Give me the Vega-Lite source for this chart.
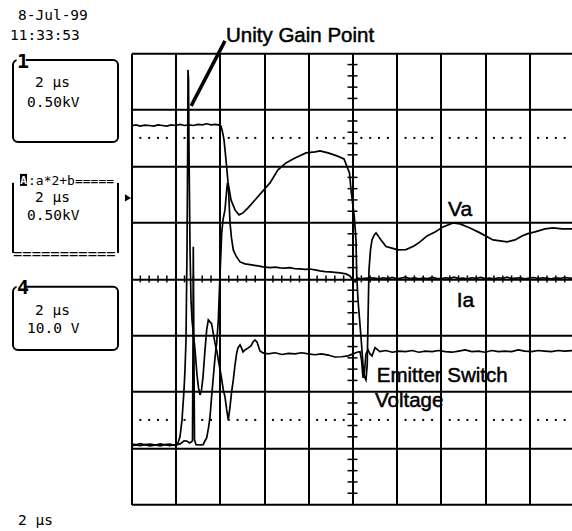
{
"$schema":"https://vega.github.io/schema/vega-lite/v6.json",
"width":440.5,"height":451.2,
"autosize":{"type":"none"},
"padding":{"left":131.5,"top":53.3,"right":0,"bottom":26.5},
"background":"white",
"config":{"view":{"stroke":null},"axis":{"labels":false,"ticks":false,"domain":false,"grid":true,"gridColor":"#000","gridWidth":2,"gridOpacity":1,"title":null}},
"data":{"values":[{}]},
"datasets":{
"xminor":[{"x":0.2},{"x":0.4},{"x":0.6},{"x":0.8},{"x":1.2},{"x":1.4},{"x":1.6},{"x":1.8},{"x":2.2},{"x":2.4},{"x":2.6},{"x":2.8},{"x":3.2},{"x":3.4},{"x":3.6},{"x":3.8},{"x":4.2},{"x":4.4},{"x":4.6},{"x":4.8},{"x":5.2},{"x":5.4},{"x":5.6},{"x":5.8},{"x":6.2},{"x":6.4},{"x":6.6},{"x":6.8},{"x":7.2},{"x":7.4},{"x":7.6},{"x":7.8},{"x":8.2},{"x":8.4},{"x":8.6},{"x":8.8},{"x":9.2},{"x":9.4},{"x":9.6},{"x":9.8}],
"yminor":[{"y":-3.8},{"y":-3.6},{"y":-3.4},{"y":-3.2},{"y":-2.8},{"y":-2.6},{"y":-2.4},{"y":-2.2},{"y":-1.8},{"y":-1.6},{"y":-1.4},{"y":-1.2},{"y":-0.8},{"y":-0.6},{"y":-0.4},{"y":-0.2},{"y":0.2},{"y":0.4},{"y":0.6},{"y":0.8},{"y":1.2},{"y":1.4},{"y":1.6},{"y":1.8},{"y":2.2},{"y":2.4},{"y":2.6},{"y":2.8},{"y":3.2},{"y":3.4},{"y":3.6},{"y":3.8}],
"traces":[
{"t":"Va","x":0.0,"y":2.715},{"t":"Va","x":0.1,"y":2.73},{"t":"Va","x":0.2,"y":2.71},{"t":"Va","x":0.3,"y":2.725},{"t":"Va","x":0.4,"y":2.72},{"t":"Va","x":0.5,"y":2.71},{"t":"Va","x":0.6,"y":2.73},{"t":"Va","x":0.7,"y":2.72},{"t":"Va","x":0.8,"y":2.71},{"t":"Va","x":0.9,"y":2.73},{"t":"Va","x":1.0,"y":2.72},{"t":"Va","x":1.1,"y":2.74},{"t":"Va","x":1.2,"y":2.72},{"t":"Va","x":1.3,"y":2.73},{"t":"Va","x":1.4,"y":2.72},{"t":"Va","x":1.5,"y":2.74},{"t":"Va","x":1.6,"y":2.73},{"t":"Va","x":1.7,"y":2.75},{"t":"Va","x":1.8,"y":2.73},{"t":"Va","x":1.9,"y":2.74},{"t":"Va","x":1.96,"y":2.73},{"t":"Va","x":2.025,"y":2.71},{"t":"Va","x":2.06,"y":2.6},{"t":"Va","x":2.093,"y":2.465},{"t":"Va","x":2.138,"y":2.11},{"t":"Va","x":2.183,"y":1.72},{"t":"Va","x":2.251,"y":1.40},{"t":"Va","x":2.342,"y":1.223},{"t":"Va","x":2.432,"y":1.135},{"t":"Va","x":2.523,"y":1.17},{"t":"Va","x":2.636,"y":1.259},{"t":"Va","x":2.794,"y":1.40},{"t":"Va","x":2.975,"y":1.56},{"t":"Va","x":3.133,"y":1.702},{"t":"Va","x":3.314,"y":1.933},{"t":"Va","x":3.495,"y":2.057},{"t":"Va","x":3.699,"y":2.145},{"t":"Va","x":3.948,"y":2.234},{"t":"Va","x":4.152,"y":2.252},{"t":"Va","x":4.265,"y":2.27},{"t":"Va","x":4.446,"y":2.234},{"t":"Va","x":4.649,"y":2.181},{"t":"Va","x":4.808,"y":2.128},{"t":"Va","x":4.932,"y":1.879},{"t":"Va","x":4.966,"y":1.578},{"t":"Va","x":5.041,"y":1.099},{"t":"Va","x":5.079,"y":0.691},{"t":"Va","x":5.095,"y":0.071},{"t":"Va","x":5.124,"y":-0.372},{"t":"Va","x":5.192,"y":-1.028},{"t":"Va","x":5.238,"y":-1.525},{"t":"Va","x":5.271,"y":-1.738},{"t":"Va","x":5.305,"y":-1.791},{"t":"Va","x":5.333,"y":-1.525},{"t":"Va","x":5.351,"y":-0.727},{"t":"Va","x":5.373,"y":0.16},{"t":"Va","x":5.407,"y":0.514},{"t":"Va","x":5.441,"y":0.691},{"t":"Va","x":5.493,"y":0.78},{"t":"Va","x":5.532,"y":0.816},{"t":"Va","x":5.645,"y":0.691},{"t":"Va","x":5.758,"y":0.573},{"t":"Va","x":5.871,"y":0.55},{"t":"Va","x":6.029,"y":0.514},{"t":"Va","x":6.21,"y":0.52},{"t":"Va","x":6.391,"y":0.585},{"t":"Va","x":6.527,"y":0.656},{"t":"Va","x":6.686,"y":0.762},{"t":"Va","x":6.867,"y":0.833},{"t":"Va","x":7.048,"y":0.922},{"t":"Va","x":7.274,"y":0.993},{"t":"Va","x":7.432,"y":0.975},{"t":"Va","x":7.658,"y":0.904},{"t":"Va","x":7.885,"y":0.816},{"t":"Va","x":8.179,"y":0.691},{"t":"Va","x":8.337,"y":0.674},{"t":"Va","x":8.495,"y":0.656},{"t":"Va","x":8.676,"y":0.691},{"t":"Va","x":8.835,"y":0.762},{"t":"Va","x":8.948,"y":0.798},{"t":"Va","x":9.129,"y":0.833},{"t":"Va","x":9.355,"y":0.887},{"t":"Va","x":9.536,"y":0.904},{"t":"Va","x":9.74,"y":0.887},{"t":"Va","x":9.966,"y":0.887},
{"t":"Ia","x":0.0,"y":-2.93},{"t":"Ia","x":0.1,"y":-2.94},{"t":"Ia","x":0.2,"y":-2.92},{"t":"Ia","x":0.3,"y":-2.94},{"t":"Ia","x":0.42,"y":-2.93},{"t":"Ia","x":0.55,"y":-2.945},{"t":"Ia","x":0.65,"y":-2.925},{"t":"Ia","x":0.75,"y":-2.94},{"t":"Ia","x":0.87,"y":-2.93},{"t":"Ia","x":0.95,"y":-2.945},{"t":"Ia","x":1.03,"y":-2.94},{"t":"Ia","x":1.1,"y":-2.925},{"t":"Ia","x":1.19,"y":-2.87},{"t":"Ia","x":1.25,"y":-2.875},{"t":"Ia","x":1.32,"y":-2.91},{"t":"Ia","x":1.38,"y":-2.87},{"t":"Ia","x":1.391,"y":-1.2},{"t":"Ia","x":1.398,"y":0.57},{"t":"Ia","x":1.41,"y":-1.0},{"t":"Ia","x":1.425,"y":-2.85},{"t":"Ia","x":1.46,"y":-2.94},{"t":"Ia","x":1.55,"y":-2.945},{"t":"Ia","x":1.62,"y":-2.94},{"t":"Ia","x":1.663,"y":-2.87},{"t":"Ia","x":1.701,"y":-2.82},{"t":"Ia","x":1.742,"y":-2.64},{"t":"Ia","x":1.776,"y":-2.45},{"t":"Ia","x":1.81,"y":-2.11},{"t":"Ia","x":1.851,"y":-1.74},{"t":"Ia","x":1.889,"y":-1.40},{"t":"Ia","x":1.928,"y":-1.135},{"t":"Ia","x":1.964,"y":-0.727},{"t":"Ia","x":2.002,"y":0.071},{"t":"Ia","x":2.041,"y":0.816},{"t":"Ia","x":2.07,"y":1.046},{"t":"Ia","x":2.115,"y":1.223},{"t":"Ia","x":2.154,"y":1.578},{"t":"Ia","x":2.172,"y":1.702},{"t":"Ia","x":2.195,"y":1.578},{"t":"Ia","x":2.229,"y":0.993},{"t":"Ia","x":2.262,"y":0.727},{"t":"Ia","x":2.303,"y":0.514},{"t":"Ia","x":2.364,"y":0.408},{"t":"Ia","x":2.455,"y":0.301},{"t":"Ia","x":2.568,"y":0.266},{"t":"Ia","x":2.719,"y":0.248},{"t":"Ia","x":2.862,"y":0.23},{"t":"Ia","x":2.975,"y":0.213},{"t":"Ia","x":3.133,"y":0.2},{"t":"Ia","x":3.25,"y":0.21},{"t":"Ia","x":3.36,"y":0.195},{"t":"Ia","x":3.47,"y":0.19},{"t":"Ia","x":3.586,"y":0.2},{"t":"Ia","x":3.7,"y":0.18},{"t":"Ia","x":3.812,"y":0.177},{"t":"Ia","x":3.92,"y":0.17},{"t":"Ia","x":4.038,"y":0.175},{"t":"Ia","x":4.15,"y":0.16},{"t":"Ia","x":4.265,"y":0.142},{"t":"Ia","x":4.38,"y":0.13},{"t":"Ia","x":4.491,"y":0.124},{"t":"Ia","x":4.6,"y":0.115},{"t":"Ia","x":4.718,"y":0.106},{"t":"Ia","x":4.853,"y":0.089},{"t":"Ia","x":4.943,"y":0.053},{"t":"Ia","x":5.011,"y":-0.018},{"t":"Ia","x":5.057,"y":-0.053},{"t":"Ia","x":5.102,"y":0.018},{"t":"Ia","x":5.17,"y":0.0},{"t":"Ia","x":5.283,"y":0.01},{"t":"Ia","x":5.396,"y":0.02},{"t":"Ia","x":5.5,"y":0.015},{"t":"Ia","x":5.6,"y":0.0},{"t":"Ia","x":5.7,"y":0.02},{"t":"Ia","x":5.8,"y":0.005},{"t":"Ia","x":5.9,"y":0.025},{"t":"Ia","x":6.0,"y":0.0},{"t":"Ia","x":6.1,"y":0.015},{"t":"Ia","x":6.2,"y":0.03},{"t":"Ia","x":6.3,"y":0.005},{"t":"Ia","x":6.4,"y":0.02},{"t":"Ia","x":6.5,"y":0.0},{"t":"Ia","x":6.6,"y":0.015},{"t":"Ia","x":6.7,"y":0.005},{"t":"Ia","x":6.8,"y":0.025},{"t":"Ia","x":6.9,"y":0.01},{"t":"Ia","x":7.0,"y":0.0},{"t":"Ia","x":7.1,"y":0.02},{"t":"Ia","x":7.2,"y":0.01},{"t":"Ia","x":7.3,"y":0.03},{"t":"Ia","x":7.4,"y":0.005},{"t":"Ia","x":7.5,"y":0.015},{"t":"Ia","x":7.6,"y":0.0},{"t":"Ia","x":7.7,"y":0.02},{"t":"Ia","x":7.8,"y":0.01},{"t":"Ia","x":7.9,"y":0.025},{"t":"Ia","x":8.0,"y":0.005},{"t":"Ia","x":8.1,"y":0.015},{"t":"Ia","x":8.2,"y":0.0},{"t":"Ia","x":8.3,"y":0.02},{"t":"Ia","x":8.4,"y":0.01},{"t":"Ia","x":8.5,"y":0.03},{"t":"Ia","x":8.6,"y":0.005},{"t":"Ia","x":8.7,"y":0.015},{"t":"Ia","x":8.8,"y":0.02},{"t":"Ia","x":8.9,"y":0.0},{"t":"Ia","x":9.0,"y":0.015},{"t":"Ia","x":9.1,"y":0.025},{"t":"Ia","x":9.2,"y":0.005},{"t":"Ia","x":9.3,"y":0.02},{"t":"Ia","x":9.4,"y":0.01},{"t":"Ia","x":9.5,"y":0.0},{"t":"Ia","x":9.6,"y":0.02},{"t":"Ia","x":9.7,"y":0.01},{"t":"Ia","x":9.8,"y":0.025},{"t":"Ia","x":9.966,"y":0.01},
{"t":"Es","x":0.0,"y":-2.96},{"t":"Es","x":0.1,"y":-2.945},{"t":"Es","x":0.2,"y":-2.955},{"t":"Es","x":0.3,"y":-2.94},{"t":"Es","x":0.42,"y":-2.96},{"t":"Es","x":0.55,"y":-2.945},{"t":"Es","x":0.65,"y":-2.96},{"t":"Es","x":0.75,"y":-2.94},{"t":"Es","x":0.87,"y":-2.955},{"t":"Es","x":0.95,"y":-2.945},{"t":"Es","x":1.007,"y":-2.95},{"t":"Es","x":1.052,"y":-2.908},{"t":"Es","x":1.097,"y":-2.80},{"t":"Es","x":1.143,"y":-2.5},{"t":"Es","x":1.188,"y":-1.968},{"t":"Es","x":1.21,"y":-1.613},{"t":"Es","x":1.233,"y":-1.082},{"t":"Es","x":1.256,"y":0.514},{"t":"Es","x":1.271,"y":2.287},{"t":"Es","x":1.278,"y":3.706},{"t":"Es","x":1.29,"y":3.528},{"t":"Es","x":1.301,"y":2.287},{"t":"Es","x":1.324,"y":0.514},{"t":"Es","x":1.346,"y":-0.372},{"t":"Es","x":1.369,"y":-0.727},{"t":"Es","x":1.414,"y":-1.082},{"t":"Es","x":1.437,"y":-1.259},{"t":"Es","x":1.482,"y":-1.702},{"t":"Es","x":1.516,"y":-1.933},{"t":"Es","x":1.55,"y":-2.057},{"t":"Es","x":1.584,"y":-1.968},{"t":"Es","x":1.618,"y":-1.738},{"t":"Es","x":1.663,"y":-1.259},{"t":"Es","x":1.701,"y":-0.904},{"t":"Es","x":1.738,"y":-0.727},{"t":"Es","x":1.776,"y":-0.762},{"t":"Es","x":1.814,"y":-0.798},{"t":"Es","x":1.855,"y":-0.993},{"t":"Es","x":1.889,"y":-1.135},{"t":"Es","x":1.934,"y":-1.294},{"t":"Es","x":1.964,"y":-1.436},{"t":"Es","x":2.025,"y":-1.702},{"t":"Es","x":2.077,"y":-1.968},{"t":"Es","x":2.115,"y":-2.092},{"t":"Es","x":2.154,"y":-2.323},{"t":"Es","x":2.19,"y":-2.5},{"t":"Es","x":2.229,"y":-2.27},{"t":"Es","x":2.262,"y":-2.021},{"t":"Es","x":2.303,"y":-1.791},{"t":"Es","x":2.342,"y":-1.525},{"t":"Es","x":2.38,"y":-1.312},{"t":"Es","x":2.409,"y":-1.223},{"t":"Es","x":2.455,"y":-1.17},{"t":"Es","x":2.489,"y":-1.223},{"t":"Es","x":2.523,"y":-1.294},{"t":"Es","x":2.568,"y":-1.259},{"t":"Es","x":2.643,"y":-1.223},{"t":"Es","x":2.704,"y":-1.188},{"t":"Es","x":2.749,"y":-1.117},{"t":"Es","x":2.794,"y":-1.082},{"t":"Es","x":2.839,"y":-1.117},{"t":"Es","x":2.907,"y":-1.277},{"t":"Es","x":2.975,"y":-1.312},{"t":"Es","x":3.088,"y":-1.33},{"t":"Es","x":3.25,"y":-1.31},{"t":"Es","x":3.4,"y":-1.34},{"t":"Es","x":3.55,"y":-1.32},{"t":"Es","x":3.7,"y":-1.33},{"t":"Es","x":3.85,"y":-1.31},{"t":"Es","x":4.0,"y":-1.33},{"t":"Es","x":4.15,"y":-1.345},{"t":"Es","x":4.3,"y":-1.33},{"t":"Es","x":4.45,"y":-1.35},{"t":"Es","x":4.6,"y":-1.385},{"t":"Es","x":4.75,"y":-1.38},{"t":"Es","x":4.9,"y":-1.365},{"t":"Es","x":5.011,"y":-1.33},{"t":"Es","x":5.1,"y":-1.30},{"t":"Es","x":5.17,"y":-1.29},{"t":"Es","x":5.204,"y":-1.436},{"t":"Es","x":5.238,"y":-1.755},{"t":"Es","x":5.271,"y":-1.65},{"t":"Es","x":5.305,"y":-1.33},{"t":"Es","x":5.351,"y":-1.26},{"t":"Es","x":5.396,"y":-1.33},{"t":"Es","x":5.441,"y":-1.365},{"t":"Es","x":5.509,"y":-1.22},{"t":"Es","x":5.62,"y":-1.29},{"t":"Es","x":5.75,"y":-1.27},{"t":"Es","x":5.9,"y":-1.3},{"t":"Es","x":6.05,"y":-1.28},{"t":"Es","x":6.2,"y":-1.29},{"t":"Es","x":6.35,"y":-1.27},{"t":"Es","x":6.5,"y":-1.3},{"t":"Es","x":6.65,"y":-1.28},{"t":"Es","x":6.8,"y":-1.29},{"t":"Es","x":6.95,"y":-1.27},{"t":"Es","x":7.1,"y":-1.29},{"t":"Es","x":7.25,"y":-1.3},{"t":"Es","x":7.4,"y":-1.28},{"t":"Es","x":7.55,"y":-1.26},{"t":"Es","x":7.7,"y":-1.29},{"t":"Es","x":7.85,"y":-1.28},{"t":"Es","x":8.0,"y":-1.3},{"t":"Es","x":8.15,"y":-1.27},{"t":"Es","x":8.3,"y":-1.29},{"t":"Es","x":8.45,"y":-1.28},{"t":"Es","x":8.6,"y":-1.29},{"t":"Es","x":8.75,"y":-1.26},{"t":"Es","x":8.9,"y":-1.28},{"t":"Es","x":9.05,"y":-1.29},{"t":"Es","x":9.2,"y":-1.27},{"t":"Es","x":9.35,"y":-1.28},{"t":"Es","x":9.5,"y":-1.29},{"t":"Es","x":9.65,"y":-1.27},{"t":"Es","x":9.8,"y":-1.28},{"t":"Es","x":9.966,"y":-1.27}
]},
"layer":[
{"data":{"name":"traces"},"mark":{"type":"line","color":"#000","strokeWidth":1.7,"clip":true},"encoding":{
"x":{"field":"x","type":"quantitative","scale":{"domain":[0,9.966],"nice":false,"zero":false},"axis":{"values":[0,1,2,3,4,5,6,7,8,9],"title":null}},
"y":{"field":"y","type":"quantitative","scale":{"domain":[-4,4],"nice":false,"zero":false},"axis":{"values":[-4,-3,-2,-1,0,1,2,3,4],"title":null}},
"detail":{"field":"t"}}},
{"data":{"name":"xminor"},"mark":{"type":"point","shape":"square","filled":true,"size":4,"color":"#000","opacity":1},"encoding":{"x":{"field":"x","type":"quantitative"},"y":{"datum":2.5}}},
{"data":{"name":"xminor"},"mark":{"type":"point","shape":"square","filled":true,"size":4,"color":"#000","opacity":1},"encoding":{"x":{"field":"x","type":"quantitative"},"y":{"datum":-2.5}}},
{"data":{"name":"xminor"},"mark":{"type":"rule","color":"#000","strokeWidth":1.5},"encoding":{"x":{"field":"x","type":"quantitative"},"y":{"datum":-0.062},"y2":{"datum":0.062}}},
{"data":{"name":"yminor"},"mark":{"type":"rule","color":"#000","strokeWidth":1.5},"encoding":{"y":{"field":"y","type":"quantitative"},"x":{"datum":4.887},"x2":{"datum":5.113}}},
{"mark":{"type":"rule","color":"#000","strokeWidth":3.5},"encoding":{"x":{"datum":1.35},"y":{"datum":3.067},"x2":{"datum":2.115},"y2":{"datum":4.22}}},
{"mark":{"type":"text","text":"Unity Gain Point","font":"Liberation Sans","fontSize":20.5,"stroke":"#000","strokeWidth":0.5,"align":"left","baseline":"alphabetic","color":"#000"},"encoding":{"x":{"datum":2.138},"y":{"datum":4.207}}},
{"mark":{"type":"text","text":"Va","font":"Liberation Sans","fontSize":21,"stroke":"#000","strokeWidth":0.5,"align":"left","baseline":"alphabetic","color":"#000"},"encoding":{"x":{"datum":7.161},"y":{"datum":1.117}}},
{"mark":{"type":"text","text":"Ia","font":"Liberation Sans","fontSize":21,"stroke":"#000","strokeWidth":0.5,"align":"left","baseline":"alphabetic","color":"#000"},"encoding":{"x":{"datum":7.357},"y":{"datum":-0.491}}},
{"mark":{"type":"text","text":"Emitter Switch","font":"Liberation Sans","fontSize":20.5,"stroke":"#000","strokeWidth":0.5,"align":"left","baseline":"alphabetic","color":"#000"},"encoding":{"x":{"datum":5.548},"y":{"datum":-1.821}}},
{"mark":{"type":"text","text":"Voltage","font":"Liberation Sans","fontSize":20.5,"stroke":"#000","strokeWidth":0.5,"align":"left","baseline":"alphabetic","color":"#000"},"encoding":{"x":{"datum":5.509},"y":{"datum":-2.264}}},
{"mark":{"type":"text","text":"8-Jul-99","font":"DejaVu Sans Mono","fontSize":14.5,"align":"left","baseline":"alphabetic","color":"#000"},"encoding":{"x":{"datum":-2.568},"y":{"datum":4.592}}},
{"mark":{"type":"text","text":"11:33:53","font":"DejaVu Sans Mono","fontSize":14.5,"align":"left","baseline":"alphabetic","color":"#000"},"encoding":{"x":{"datum":-2.749},"y":{"datum":4.238}}},
{"mark":{"type":"rect","fill":"white","fillOpacity":0,"stroke":"#000","strokeWidth":2,"cornerRadius":5},"encoding":{"x":{"datum":-2.681},"x2":{"datum":-0.305},"y":{"datum":3.883},"y2":{"datum":2.429}}},
{"mark":{"type":"rect","fill":"white","stroke":null},"encoding":{"x":{"datum":-2.6},"x2":{"datum":-2.39},"y":{"datum":3.95},"y2":{"datum":3.82}}},
{"mark":{"type":"text","text":"1","font":"DejaVu Sans Mono","fontSize":20,"fontWeight":"bold","align":"left","baseline":"alphabetic","color":"#000"},"encoding":{"x":{"datum":-2.59},"y":{"datum":3.74}}},
{"mark":{"type":"text","text":"2 µs","font":"DejaVu Sans Mono","fontSize":14.5,"align":"left","baseline":"alphabetic","color":"#000"},"encoding":{"x":{"datum":-2.183},"y":{"datum":3.404}}},
{"mark":{"type":"text","text":"0.50kV","font":"DejaVu Sans Mono","fontSize":14.5,"align":"left","baseline":"alphabetic","color":"#000"},"encoding":{"x":{"datum":-2.364},"y":{"datum":3.05}}},
{"mark":{"type":"rule","color":"#000","strokeWidth":2},"encoding":{"x":{"datum":-2.681},"y":{"datum":1.702},"y2":{"datum":0.461}}},
{"mark":{"type":"rule","color":"#000","strokeWidth":2},"encoding":{"x":{"datum":-0.305},"y":{"datum":1.702},"y2":{"datum":0.461}}},
{"mark":{"type":"rect","fill":"#000","stroke":null},"encoding":{"x":{"datum":-2.523},"x2":{"datum":-2.364},"y":{"datum":1.862},"y2":{"datum":1.649}}},
{"mark":{"type":"text","text":"A","font":"DejaVu Sans Mono","fontSize":11,"fontWeight":"bold","align":"center","baseline":"alphabetic","color":"white"},"encoding":{"x":{"datum":-2.444},"y":{"datum":1.675}}},
{"mark":{"type":"text","text":":a*2+b=====","font":"DejaVu Sans Mono","fontSize":13,"align":"left","baseline":"alphabetic","color":"#000"},"encoding":{"x":{"datum":-2.342},"y":{"datum":1.667}}},
{"mark":{"type":"text","text":"2 µs","font":"DejaVu Sans Mono","fontSize":14.5,"align":"left","baseline":"alphabetic","color":"#000"},"encoding":{"x":{"datum":-2.183},"y":{"datum":1.365}}},
{"mark":{"type":"text","text":"0.50kV","font":"DejaVu Sans Mono","fontSize":14.5,"align":"left","baseline":"alphabetic","color":"#000"},"encoding":{"x":{"datum":-2.364},"y":{"datum":1.046}}},
{"mark":{"type":"text","text":"===========","font":"DejaVu Sans Mono","fontSize":15.5,"align":"left","baseline":"alphabetic","color":"#000"},"encoding":{"x":{"datum":-2.681},"y":{"datum":0.355}}},
{"mark":{"type":"point","shape":"triangle-right","filled":true,"size":50,"color":"#000","opacity":1},"encoding":{"x":{"datum":-0.079},"y":{"datum":1.436}}},
{"mark":{"type":"rect","fill":"white","fillOpacity":0,"stroke":"#000","strokeWidth":2,"cornerRadius":5},"encoding":{"x":{"datum":-2.681},"x2":{"datum":-0.305},"y":{"datum":-0.137},"y2":{"datum":-1.259}}},
{"mark":{"type":"rect","fill":"white","stroke":null},"encoding":{"x":{"datum":-2.6},"x2":{"datum":-2.39},"y":{"datum":-0.07},"y2":{"datum":-0.2}}},
{"mark":{"type":"text","text":"4","font":"DejaVu Sans Mono","fontSize":20,"fontWeight":"bold","align":"left","baseline":"alphabetic","color":"#000"},"encoding":{"x":{"datum":-2.59},"y":{"datum":-0.26}}},
{"mark":{"type":"text","text":"2 µs","font":"DejaVu Sans Mono","fontSize":14.5,"align":"left","baseline":"alphabetic","color":"#000"},"encoding":{"x":{"datum":-2.183},"y":{"datum":-0.638}}},
{"mark":{"type":"text","text":"10.0 V","font":"DejaVu Sans Mono","fontSize":14.5,"align":"left","baseline":"alphabetic","color":"#000"},"encoding":{"x":{"datum":-2.364},"y":{"datum":-0.957}}},
{"mark":{"type":"text","text":"2 µs","font":"DejaVu Sans Mono","fontSize":14.5,"align":"left","baseline":"alphabetic","color":"#000"},"encoding":{"x":{"datum":-2.568},"y":{"datum":-4.362}}}
]
}
